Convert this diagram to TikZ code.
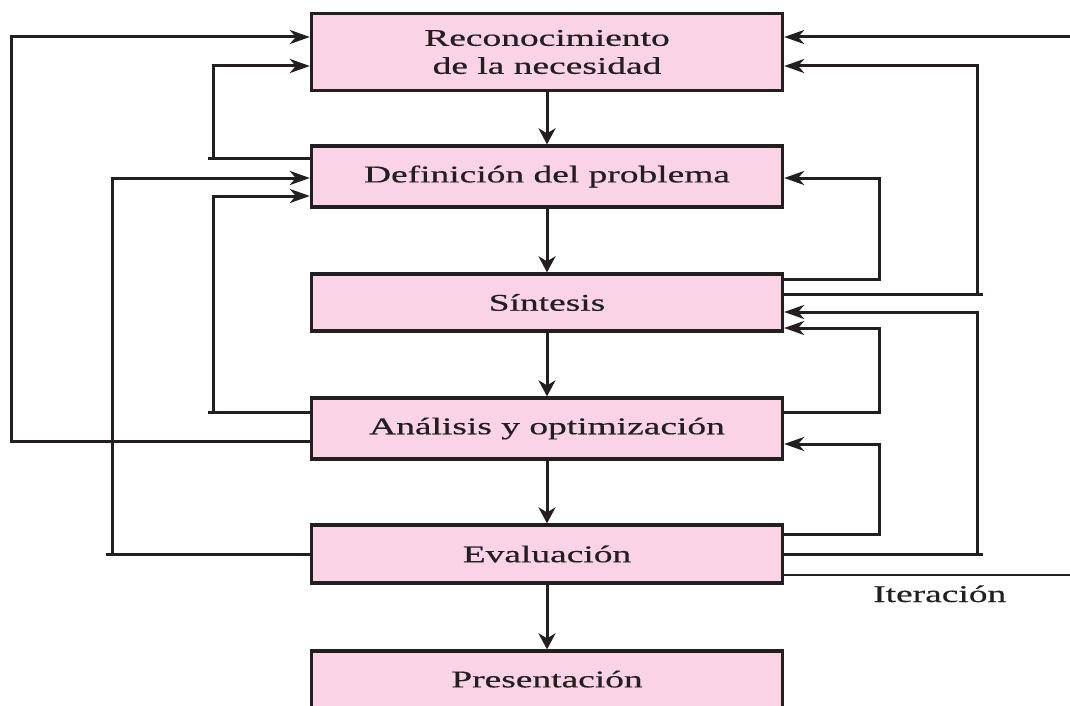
\documentclass[tikz,border=0pt]{standalone}
\usepackage{fontspec}
\setmainfont{Liberation Serif}
\newfontfamily\boxfont{Liberation Serif}[FakeBold=0.4]
\usetikzlibrary{arrows.meta}
\definecolor{ink}{HTML}{231F20}
\definecolor{boxpink}{RGB}{250,212,230}
\tikzset{
  box/.style={draw=ink, line width=3.3pt, fill=boxpink, minimum width=471pt,
    inner sep=0pt, text=ink, font=\boxfont\fontsize{24}{28}\selectfont, align=center},
  wire/.style={draw=ink, line width=3pt},
  harrow/.style={wire, -{Stealth[length=20pt,width=14pt,inset=6pt]}},
  varrow/.style={wire, -{Stealth[length=16pt,width=17pt,inset=5pt]}},
  lbl/.style={text=ink, font=\boxfont\fontsize{24}{28}\selectfont, inner sep=0pt}
}
\newcommand{\sx}[1]{\scalebox{1.56}[1]{#1}}
\begin{document}
\begin{tikzpicture}[x=1pt,y=-1pt]
\useasboundingbox (0,0) rectangle (1070,706);
\clip (0,0) rectangle (1070,706);
% boxes
\node[box, minimum height=77pt] (b1) at (547,52) {\sx{Reconocimiento}\\\sx{de la necesidad}};
\node[box, minimum height=61pt] (b2) at (547,176.5) {\sx{Definición del problema}};
\node[box, minimum height=57pt] (b3) at (547,302.5) {\sx{Síntesis}};
\node[box, minimum height=61pt] (b4) at (547,428.5) {\sx{Análisis y optimización}};
\node[box, minimum height=58pt] (b5) at (547,554) {\sx{Evaluación}};
\node[box, minimum height=70pt] (b6) at (547,686) {\raisebox{14pt}{\sx{Presentación}}};
\node[lbl, anchor=base west] (it) at (873,602) {\sx{Iteración}};
% main flow
\draw[varrow] (b1.south) -- (b2.north);
\draw[varrow] (b2.south) -- (b3.north);
\draw[varrow] (b3.south) -- (b4.north);
\draw[varrow] (b4.south) -- (b5.north);
\draw[varrow] (b5.south) -- (b6.north);
% left feedback
\draw[harrow] (b4.west |- 0,441) -- (11,441) -- (11,37) -- (b1.west |- 0,37);
\draw[harrow] (b2.west |- 0,158) -- (208,158) (213,158) -- (213,66) -- (b1.west |- 0,66);
\draw[harrow] (b5.west |- 0,554) -- (106,554) (112,554) -- (112,178) -- (b2.west |- 0,178);
\draw[harrow] (b4.west |- 0,412) -- (208,412) (213,412) -- (213,196) -- (b2.west |- 0,196);
% right feedback
\coordinate (offA) at (1075,37);
\coordinate (offB) at (1075,575);
\draw[harrow] (offA) -- (b1.east |- offA);
\draw[harrow] (b3.east |- 0,294) -- (983,294) (977,294) -- (977,66) -- (b1.east |- 0,66);
\draw[harrow] (b3.east |- 0,279) -- (879,279) -- (879,178) -- (b2.east |- 0,178);
\draw[harrow] (b5.east |- 0,554) -- (983,554) (977,554) -- (977,312) -- (b3.east |- 0,312);
\draw[harrow] (b4.east |- 0,412) -- (879,412) -- (879,328) -- (b3.east |- 0,328);
\draw[harrow] (b5.east |- 0,534) -- (879,534) -- (879,444) -- (b4.east |- 0,444);
\draw[wire, line width=2.5pt] (b5.east |- offB) -- (offB);
\end{tikzpicture}
\end{document}
